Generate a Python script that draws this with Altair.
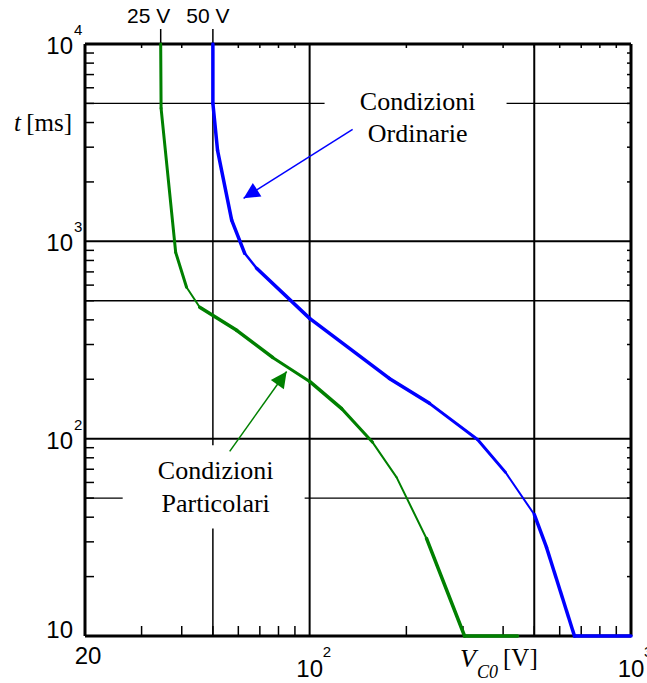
import altair as alt
import pandas as pd

W, H = 546, 592
SANS = "Liberation Sans"
SERIF = "Liberation Serif"

# ---------------- data ----------------
# "Condizioni Ordinarie" (blue) curve: V_C0 [V], t [ms], segment stroke widths
ord_v = [50, 50, 51.7, 57.2, 62.8, 68.4, 100, 177, 236, 333, 407, 500, 546, 667, 1000]
ord_t = [10000, 5000, 2890, 1280, 870, 730, 407, 202, 151, 99, 67.5, 41.3, 28.1, 10, 10]
ord_w = [3.5, 3.5, 3.5, 3.5, 2.5, 3.5, 3.5, 3.5, 3, 3, 2, 3.5, 3.5, 3.5]

# "Condizioni Particolari" (green) curve
par_v = [34.4, 34.5, 38.3, 41.4, 45.5, 59.3, 76.7, 100, 125.8, 157, 186.5, 231, 303.5, 443.6]
par_t = [10000, 4720, 879, 585, 463, 354, 258, 195, 142, 95.8, 63.7, 31.2, 10, 10]
par_w = [3, 3, 3, 2, 3.5, 3.5, 3, 3.5, 3, 2, 2, 3.5, 3.5]

# grid lines
grid_v = [50, 100, 500]
grid_v_w = [1.5, 2, 2]
grid_t = [50, 100, 500, 1000, 5000]
grid_t_w = [1.3, 2, 1.3, 2, 1.3]

# minor ticks
tick_v = [30, 40, 50, 60, 70, 80, 90, 200, 300, 400, 500, 600, 700, 800, 900]
tick_t = [20, 30, 40, 50, 60, 70, 80, 90, 200, 300, 400, 500, 600, 700, 800, 900,
          2000, 3000, 4000, 5000, 6000, 7000, 8000, 9000]

# voltage markers above the plot
mark_v = [34.4, 50]
mark_lbl = ["25 V", "50 V"]

# tick labels
ylab_t = [10000, 1000, 100]
ylab_exp = ["4", "3", "2"]
xlab_v = [100, 1000]
xlab_exp = ["2", "3"]

# annotations
ann_txt = ["Condizioni\nOrdinarie", "Condizioni\nParticolari"]
ann_v = [216.8, 51.0]
ann_t = [5100, 68.2]
box_v = [111.3, 26.2]
box_v2 = [410, 96.5]
box_t = [6546, 92.5]
box_t2 = [2893, 35.1]
arr_v = [136.1, 56.4]
arr_t = [3696, 86.2]
arr_v2 = [62.3, 84.8]
arr_t2 = [1652, 219]
arr_angle = [237.7, 35.4]
series = ["Ordinarie", "Particolari"]
colors = ["#0000ff", "#008000"]

# ---------------- helpers ----------------
xs = alt.Scale(type="log", domain=[20, 1000], nice=False)
ys = alt.Scale(type="log", domain=[10, 10000], nice=False)


def X(f):
    return alt.X(f, type="quantitative", scale=xs, axis=None)


def Y(f):
    return alt.Y(f, type="quantitative", scale=ys, axis=None)


col = alt.Color("s:N", scale=alt.Scale(domain=series, range=colors), legend=None)
dummy = alt.Data(values=[{"a": 1}])


def segs(v, t, w, name):
    return [dict(v=v[i], t=t[i], v2=v[i + 1], t2=t[i + 1], w=w[i], s=name)
            for i in range(len(w))]


seg_df = pd.DataFrame(segs(ord_v, ord_t, ord_w, series[0]) + segs(par_v, par_t, par_w, series[1]))

# ---------------- layers ----------------
bg = alt.Chart(dummy).mark_rect(color="white").encode(
    x=alt.value(0), x2=alt.value(W), y=alt.value(0), y2=alt.value(H))

gv = alt.Chart(pd.DataFrame({"v": grid_v, "w": grid_v_w})).mark_rule(color="black").encode(
    x=X("v"), strokeWidth=alt.StrokeWidth("w:Q", scale=None))
gt = alt.Chart(pd.DataFrame({"t": grid_t, "w": grid_t_w})).mark_rule(color="black").encode(
    y=Y("t"), strokeWidth=alt.StrokeWidth("w:Q", scale=None))

mk_df = pd.DataFrame({"v": mark_v, "lbl": mark_lbl})
ext = alt.Chart(mk_df).mark_rule(color="black", strokeWidth=1.5).encode(
    x=X("v"), y=alt.value(-15), y2=alt.value(0))

tx = pd.DataFrame({"v": tick_v})
tt = pd.DataFrame({"t": tick_t})
tb = alt.Chart(tx).mark_rule(color="black", strokeWidth=1.5).encode(
    x=X("v"), y=alt.value(H), y2=alt.value(H - 10))
ttop = alt.Chart(tx).mark_rule(color="black", strokeWidth=1.5).encode(
    x=X("v"), y=alt.value(0), y2=alt.value(4))
tl = alt.Chart(tt).mark_rule(color="black", strokeWidth=1.5).encode(
    y=Y("t"), x=alt.value(0), x2=alt.value(9))
tr = alt.Chart(tt).mark_rule(color="black", strokeWidth=1.5).encode(
    y=Y("t"), x=alt.value(W), x2=alt.value(W - 4))

frame = [
    alt.Chart(dummy).mark_rule(color="black", strokeWidth=3).encode(
        x=alt.value(0), x2=alt.value(W), y=alt.value(0)),
    alt.Chart(dummy).mark_rule(color="black", strokeWidth=3).encode(
        x=alt.value(0), x2=alt.value(W), y=alt.value(H)),
    alt.Chart(dummy).mark_rule(color="black", strokeWidth=3).encode(
        y=alt.value(0), y2=alt.value(H), x=alt.value(0)),
    alt.Chart(dummy).mark_rule(color="black", strokeWidth=3).encode(
        y=alt.value(0), y2=alt.value(H), x=alt.value(W)),
]

ann_df = pd.DataFrame({"txt": ann_txt, "v": ann_v, "t": ann_t,
                       "bv": box_v, "bv2": box_v2, "bt": box_t, "bt2": box_t2,
                       "av": arr_v, "at": arr_t, "av2": arr_v2, "at2": arr_t2,
                       "a": arr_angle, "s": series})

boxes = alt.Chart(ann_df).mark_rect(color="white").encode(
    x=X("bv"), x2="bv2", y=Y("bt"), y2="bt2")

curves = alt.Chart(seg_df).mark_rule(strokeCap="round").encode(
    x=X("v"), y=Y("t"), x2="v2", y2="t2", color=col,
    strokeWidth=alt.StrokeWidth("w:Q", scale=None))

arr_lines = alt.Chart(ann_df).mark_rule(strokeWidth=1.5).encode(
    x=X("av"), y=Y("at"), x2="av2", y2="at2", color=col)
arr_heads = alt.Chart(ann_df).mark_point(
    shape="M0,0L0.5,1L-0.5,1Z", filled=True, size=1024, opacity=1, strokeWidth=0
).encode(x=X("av2"), y=Y("at2"), angle=alt.Angle("a:Q", scale=None), color=col)

ann_text = alt.Chart(ann_df).mark_text(
    font=SERIF, fontSize=26, lineBreak="\n", lineHeight=32.5, align="center",
    baseline="middle", color="black"
).encode(x=X("v"), y=Y("t"), text="txt:N")

mk_lbl25 = alt.Chart(mk_df[mk_df.v < 40]).mark_text(
    font=SANS, fontSize=21, align="center", baseline="alphabetic", dx=-12, color="black"
).encode(x=X("v"), y=alt.value(-21), text="lbl:N")
mk_lbl50 = alt.Chart(mk_df[mk_df.v >= 40]).mark_text(
    font=SANS, fontSize=21, align="center", baseline="alphabetic", dx=-5, color="black"
).encode(x=X("v"), y=alt.value(-21), text="lbl:N")

yl_df = pd.DataFrame({"t": ylab_t, "e": ylab_exp})
ylab_base = alt.Chart(yl_df).mark_text(
    font=SANS, fontSize=24, align="right", baseline="middle", dy=3, color="black"
).encode(x=alt.value(-12), y=Y("t"), text=alt.value("10"))
ylab_expo = alt.Chart(yl_df).mark_text(
    font=SANS, fontSize=15, align="left", baseline="middle", dy=-14, color="black"
).encode(x=alt.value(-11), y=Y("t"), text="e:N")
ylab_10 = alt.Chart(pd.DataFrame({"t": [10]})).mark_text(
    font=SANS, fontSize=24, align="right", baseline="middle", dy=-5, color="black"
).encode(x=alt.value(-12), y=Y("t"), text=alt.value("10"))

xl_df = pd.DataFrame({"v": xlab_v, "e": xlab_exp})
xlab_base = alt.Chart(xl_df).mark_text(
    font=SANS, fontSize=24, align="center", baseline="middle", color="black"
).encode(x=X("v"), y=alt.value(H + 34), text=alt.value("10"))
xlab_expo = alt.Chart(xl_df).mark_text(
    font=SANS, fontSize=15, align="left", baseline="middle", dx=13, color="black"
).encode(x=X("v"), y=alt.value(H + 16), text="e:N")
xlab_20 = alt.Chart(pd.DataFrame({"v": [20]})).mark_text(
    font=SANS, fontSize=24, align="center", baseline="middle", dx=3, color="black"
).encode(x=X("v"), y=alt.value(H + 21), text=alt.value("20"))

t_it = alt.Chart(dummy).mark_text(
    font=SERIF, fontSize=25, fontStyle="italic", align="right", baseline="alphabetic", color="black"
).encode(x=alt.value(-64), y=alt.value(87), text=alt.value("t"))
t_ms = alt.Chart(dummy).mark_text(
    font=SERIF, fontSize=25, align="right", baseline="alphabetic", color="black"
).encode(x=alt.value(-13), y=alt.value(87), text=alt.value("[ms]"))

v_it = alt.Chart(dummy).mark_text(
    font=SERIF, fontSize=26, fontStyle="italic", align="center", baseline="alphabetic", color="black"
).encode(x=alt.value(383), y=alt.value(H + 31), text=alt.value("V"))
v_sub = alt.Chart(dummy).mark_text(
    font=SERIF, fontSize=18, fontStyle="italic", align="left", baseline="alphabetic", color="black"
).encode(x=alt.value(392), y=alt.value(H + 42), text=alt.value("C0"))
v_unit = alt.Chart(dummy).mark_text(
    font=SERIF, fontSize=25, align="left", baseline="alphabetic", color="black"
).encode(x=alt.value(418), y=alt.value(H + 30), text=alt.value("[V]"))

chart = alt.layer(
    bg, gv, gt, ext, boxes, tb, ttop, tl, tr, *frame,
    curves, arr_lines, arr_heads, ann_text,
    mk_lbl25, mk_lbl50, ylab_base, ylab_expo, ylab_10,
    xlab_base, xlab_expo, xlab_20, t_it, t_ms, v_it, v_sub, v_unit
).properties(
    width=W, height=H,
    padding={"left": 85, "top": 44, "right": 16, "bottom": 47},
    autosize=alt.AutoSizeParams(type="none"),
    background="white",
).configure_view(strokeWidth=0)

chart.save("out.html", embed_options={"renderer": "svg", "actions": False})
